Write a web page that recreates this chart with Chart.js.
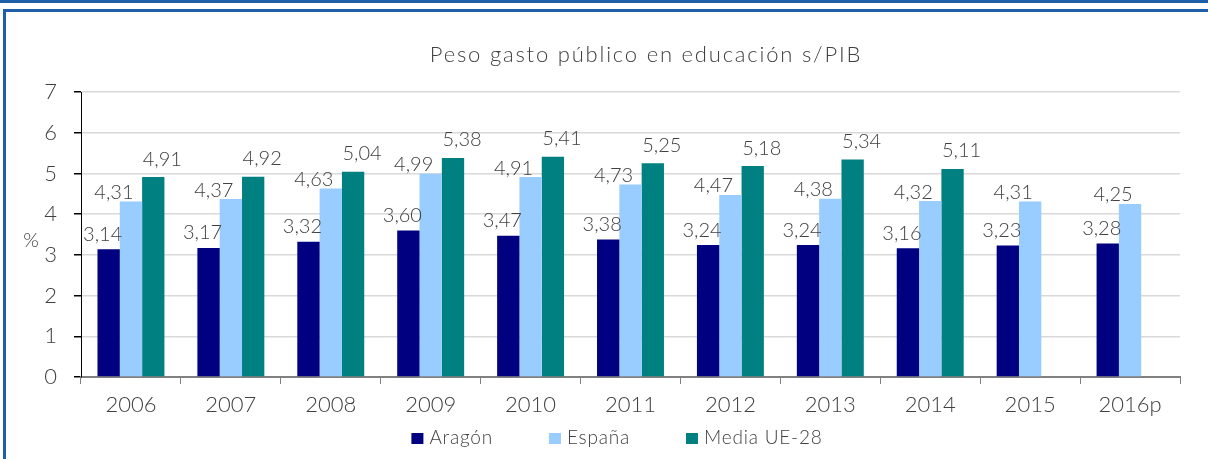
<!DOCTYPE html>
<html lang="es">
<head>
<meta charset="utf-8">
<title>Peso gasto público en educación s/PIB</title>
<script src="https://cdn.jsdelivr.net/npm/chart.js@4.4.1/dist/chart.umd.min.js"></script>
<style>
  html, body { margin: 0; padding: 0; background: #fff; }
  #wrap { position: relative; width: 1208px; height: 459px; }
</style>
</head>
<body>
<div id="wrap"><canvas id="gasto-chart"></canvas></div>
<script>
const years = ['2006', '2007', '2008', '2009', '2010', '2011', '2012', '2013', '2014', '2015', '2016p']
const aragon = [3.14, 3.17, 3.32, 3.60, 3.47, 3.38, 3.24, 3.24, 3.16, 3.23, 3.28]
const espana = [4.31, 4.37, 4.63, 4.99, 4.91, 4.73, 4.47, 4.38, 4.32, 4.31, 4.25]
const mediaUE = [4.91, 4.92, 5.04, 5.38, 5.41, 5.25, 5.18, 5.34, 5.11, null, null]
const yTicks = [0, 1, 2, 3, 4, 5, 6, 7]

const FONT = 'Lato, "Open Sans", sans-serif'
const TEXT = '#404040'

// label nudges per series, so the values sit like the spreadsheet placed them
const labelShift = [
  { dx: -6, dy: -15 },
  { dx: -17, dy: -9 },
  { dx: 9, dy: -18 },
]

const fmt = (v) => v.toFixed(2).replace('.', ',')

// ── extras drawn on the canvas: frame, title, unit, value labels, legend ──
const decorations = {
  id: 'decorations',
  afterDraw(chart) {
    const { ctx } = chart
    ctx.save()

    // blue frame
    ctx.strokeStyle = '#1f5ea8'
    ctx.lineWidth = 3
    ctx.beginPath()
    ctx.moveTo(0, 1.5); ctx.lineTo(1208, 1.5)
    ctx.moveTo(3, 10.5); ctx.lineTo(1208, 10.5)
    ctx.moveTo(4.5, 10); ctx.lineTo(4.5, 459)
    ctx.stroke()

    ctx.fillStyle = TEXT
    ctx.textAlign = 'center'
    ctx.textBaseline = 'middle'
    ctx.font = `300 22px ${FONT}`
    ctx.letterSpacing = '1.8px'
    ctx.fillText('Peso gasto público en educación s/PIB', 646, 55)
    ctx.letterSpacing = '0px'

    ctx.font = `300 20px ${FONT}`
    ctx.fillText('%', 31, 241)

    // value labels above each bar
    chart.data.datasets.forEach((ds, i) => {
      const meta = chart.getDatasetMeta(i)
      const s = labelShift[i]
      meta.data.forEach((bar, j) => {
        const v = ds.data[j]
        if (v == null) return
        ctx.fillText(fmt(v), bar.x + s.dx, bar.y + s.dy)
      })
    })

    // legend
    ctx.font = `300 19px ${FONT}`
    ctx.letterSpacing = '0.8px'
    ctx.textAlign = 'left'
    const box = 12, gap = 6, spacing = 56
    const items = chart.data.datasets.map((ds) => ({
      label: ds.label, color: ds.backgroundColor, w: ctx.measureText(ds.label).width,
    }))
    const total = items.reduce((a, it) => a + box + gap + it.w, 0) + spacing * (items.length - 1)
    let x = 617 - total / 2
    const ly = 438
    items.forEach((it) => {
      ctx.fillStyle = it.color
      ctx.fillRect(x, ly - 5, box, 11)
      ctx.fillStyle = TEXT
      ctx.fillText(it.label, x + box + gap, ly)
      x += box + gap + it.w + spacing
    })

    ctx.restore()
  },
}

new Chart(document.getElementById('gasto-chart'), {
  type: 'bar',
  data: {
    labels: years,
    datasets: [
      { label: 'Aragón', data: aragon, backgroundColor: '#000080' },
      { label: 'España', data: espana, backgroundColor: '#99ccff' },
      { label: 'Media UE-28', data: mediaUE, backgroundColor: '#008080' },
    ],
  },
  options: {
    responsive: true,
    maintainAspectRatio: false,
    animation: false,
    layout: { padding: { top: 92, left: 0, right: 28, bottom: 0 } },
    datasets: {
      bar: { categoryPercentage: 0.67, barPercentage: 1, borderWidth: 0 },
    },
    plugins: {
      legend: { display: false },
      tooltip: { enabled: false },
      title: { display: false },
    },
    scales: {
      x: {
        offset: true,
        grid: { offset: true, drawOnChartArea: false, tickLength: 7, tickColor: '#808080' },
        border: { color: '#808080', width: 2 },
        ticks: { color: TEXT, padding: 8, font: { family: FONT, size: 22, weight: 300 } },
        afterFit: (s) => { s.height = 82 },
      },
      y: {
        min: 0,
        max: 7,
        afterBuildTicks: (s) => { s.ticks = yTicks.map((v) => ({ value: v })) },
        grid: { color: '#d9d9d9', lineWidth: 1.5, tickLength: 7, tickColor: '#000' },
        border: { color: '#000', width: 1 },
        ticks: { color: TEXT, padding: 17, font: { family: FONT, size: 22, weight: 300 } },
        afterFit: (s) => { s.width = 81 },
      },
    },
  },
  plugins: [decorations],
})
</script>
</body>
</html>
